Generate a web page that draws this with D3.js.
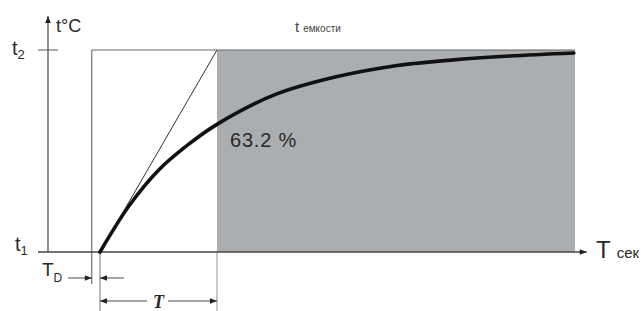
<html>
<head>
  <script src="https://d3js.org/d3.v7.min.js"></script>
  <style>
    body { margin: 0; background: #fff; }
    text { font-family: "Liberation Sans", Arial, sans-serif; fill: #2a2a2a; }
  </style>
</head>
<body>
  <svg id="chart" width="643" height="311"></svg>
  <script>
    // time in units of the time constant T (0 = start of the rise), value = share of (t2 - t1)
    const curveTime  = [0, 0.25, 0.5, 0.75, 1, 1.5, 2, 2.5, 3, 3.5, 4.05];
    const curveValue = [0, 0.23, 0.405, 0.53, 0.632, 0.78, 0.865, 0.92, 0.95, 0.97, 0.985];
    const tangentTime  = [0, 1];
    const tangentValue = [0, 1];
    const deadTime = -0.07;      // left edge of the frame (T_D before the rise)
    const fillStart = 1, fillEnd = 4.06;
    const axisTime = [-0.53, 4.16];
    const yTicks = [{ v: 0, base: "t", sub: "1" }, { v: 1, base: "t", sub: "2" }];
    const pctLabel = "63.2 %";

    const svg = d3.select("#chart");
    const x = d3.scaleLinear().domain([0, 1]).range([100, 217]);
    const y = d3.scaleLinear().domain([0, 1]).range([252, 50]);

    const defs = svg.append("defs");
    defs.append("marker").attr("id", "arr")
      .attr("viewBox", "0 0 10 10").attr("refX", 10).attr("refY", 5)
      .attr("markerWidth", 9).attr("markerHeight", 7).attr("markerUnits", "userSpaceOnUse")
      .attr("orient", "auto")
      .append("path").attr("d", "M0,1L10,5L0,9Z").attr("fill", "#222");

    // gray area
    svg.append("rect")
      .attr("x", x(fillStart)).attr("y", y(1))
      .attr("width", x(fillEnd) - x(fillStart)).attr("height", y(0) - y(1))
      .attr("fill", "#abaeb1");

    // frame: left side and top
    svg.append("line").attr("x1", x(deadTime)).attr("x2", x(deadTime))
      .attr("y1", y(1)).attr("y2", 284).attr("stroke", "#555").attr("stroke-width", 1);
    svg.append("line").attr("x1", x(deadTime)).attr("x2", x(fillEnd))
      .attr("y1", y(1)).attr("y2", y(1)).attr("stroke", "#666").attr("stroke-width", 1);

    // extension lines
    svg.append("line").attr("x1", x(0)).attr("x2", x(0)).attr("y1", y(0)).attr("y2", 311)
      .attr("stroke", "#666").attr("stroke-width", 0.9);
    svg.append("line").attr("x1", x(1)).attr("x2", x(1)).attr("y1", y(0)).attr("y2", 311)
      .attr("stroke", "#888").attr("stroke-width", 0.9);

    // axes
    svg.append("line").attr("x1", x(axisTime[0])).attr("x2", x(axisTime[1]))
      .attr("y1", y(0)).attr("y2", y(0))
      .attr("stroke", "#444").attr("stroke-width", 1.4).attr("marker-end", "url(#arr)");
    svg.append("line").attr("x1", 48).attr("x2", 48).attr("y1", y(0)).attr("y2", 16)
      .attr("stroke", "#444").attr("stroke-width", 1.2).attr("marker-end", "url(#arr)");
    svg.append("line").attr("x1", 38).attr("x2", 58).attr("y1", y(1)).attr("y2", y(1))
      .attr("stroke", "#555").attr("stroke-width", 1);

    // tangent
    svg.append("path")
      .attr("d", d3.line()(tangentTime.map((t, i) => [x(t), y(tangentValue[i])])))
      .attr("fill", "none").attr("stroke", "#333").attr("stroke-width", 1);

    // response curve
    svg.append("path")
      .attr("d", d3.line().curve(d3.curveCatmullRom)(curveTime.map((t, i) => [x(t), y(curveValue[i])])))
      .attr("fill", "none").attr("stroke", "#111").attr("stroke-width", 3.6)
      .attr("stroke-linecap", "round");

    // y labels
    yTicks.forEach((d, i) => {
      const tx = svg.append("text").attr("x", i ? 12 : 15).attr("y", y(d.v) + (i ? 5 : -1))
        .style("font-size", "20px");
      tx.append("tspan").text(d.base);
      tx.append("tspan").attr("dy", 4).style("font-size", "13px").text(d.sub);
    });
    svg.append("text").attr("x", 56).attr("y", 32).style("font-size", "18px").text("t°C");

    svg.append("text").attr("x", 295).attr("y", 32).style("font-size", "15px").style("fill", "#444").text("t")
      .append("tspan").attr("dx", 4).style("font-size", "10px").text("емкости");

    svg.append("text").attr("x", 230).attr("y", 147).style("font-size", "20px")
      .attr("letter-spacing", "0.8").text(pctLabel);

    svg.append("text").attr("x", 596).attr("y", 258).style("font-size", "24px").text("T")
      .append("tspan").attr("dx", 6).style("font-size", "15px").text("сек");

    // T_D dimension
    const td = svg.append("text").attr("x", 42).attr("y", 276).style("font-size", "19px");
    td.append("tspan").text("T");
    td.append("tspan").attr("dy", 6).style("font-size", "12px").text("D");
    svg.append("line").attr("x1", 68).attr("x2", x(deadTime)).attr("y1", 278).attr("y2", 278)
      .attr("stroke", "#333").attr("stroke-width", 0.9).attr("marker-end", "url(#arr)");
    svg.append("line").attr("x1", 124).attr("x2", x(0)).attr("y1", 278).attr("y2", 278)
      .attr("stroke", "#333").attr("stroke-width", 0.9).attr("marker-end", "url(#arr)");

    // time constant dimension
    svg.append("line").attr("x1", 147).attr("x2", x(0)).attr("y1", 301).attr("y2", 301)
      .attr("stroke", "#333").attr("stroke-width", 0.9).attr("marker-end", "url(#arr)");
    svg.append("line").attr("x1", 168).attr("x2", x(1)).attr("y1", 301).attr("y2", 301)
      .attr("stroke", "#333").attr("stroke-width", 0.9).attr("marker-end", "url(#arr)");
    svg.append("text").attr("x", (x(0) + x(1)) / 2).attr("y", 308).attr("text-anchor", "middle")
      .style("font-family", "'Liberation Serif', serif").style("font-style", "italic")
      .style("font-weight", "bold").style("font-size", "18px").text("T");
  </script>
</body>
</html>
